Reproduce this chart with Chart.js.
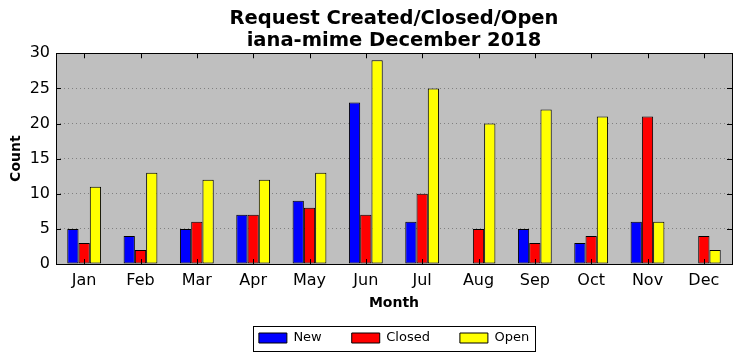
<!DOCTYPE html>
<html lang="en">
<head>
<meta charset="UTF-8">
<title>Request Created/Closed/Open - iana-mime December 2018</title>
<script src="https://cdn.jsdelivr.net/npm/chart.js@4"></script>
<style>
body{margin:0;background:#fff}
#wrap{width:742px;height:361px}
</style>
</head>
<body>
<div id="wrap"><canvas id="c" width="742" height="361"></canvas></div>
<script>
const MONTHS=["Jan","Feb","Mar","Apr","May","Jun","Jul","Aug","Sep","Oct","Nov","Dec"];
const NEW_REQ   =[5,4,5,7,9,23,6,0,5,3,6,0];
const CLOSED_REQ=[3,2,6,7,8,7,10,5,3,4,21,4];
const OPEN_REQ  =[11,13,12,12,13,29,25,20,22,21,6,2];

Chart.defaults.font.family="'DejaVu Sans', sans-serif";
Chart.defaults.color="#000";

// grey plot background, black frame, inward ticks, legend frame
const frame={
  id:"frame",
  beforeDraw(ch){
    const a=ch.chartArea,ctx=ch.ctx;
    ctx.save();ctx.fillStyle="#bfbfbf";
    ctx.fillRect(a.left,a.top,a.right-a.left,a.bottom-a.top);
    ctx.restore();
  },
  afterDraw(ch){
    const a=ch.chartArea,ctx=ch.ctx,x=ch.scales.x,y=ch.scales.y;
    ctx.save();
    ctx.strokeStyle="#000";ctx.lineWidth=1;
    ctx.strokeRect(Math.round(a.left)+.5,Math.round(a.top)+.5,Math.round(a.right-a.left),Math.round(a.bottom-a.top));
    ctx.beginPath();
    x.ticks.forEach((t,i)=>{
      const px=Math.round(x.getPixelForTick(i))+.5;
      ctx.moveTo(px,a.top);ctx.lineTo(px,a.top+5);
      ctx.moveTo(px,a.bottom);ctx.lineTo(px,a.bottom-5);
    });
    y.ticks.forEach((t,i)=>{
      const py=Math.round(y.getPixelForTick(i))+.5;
      ctx.moveTo(a.left,py);ctx.lineTo(a.left+5,py);
      ctx.moveTo(a.right,py);ctx.lineTo(a.right-5,py);
    });
    ctx.stroke();
    const hb=ch.legend.legendHitBoxes;
    if(hb&&hb.length){
      const l=hb[0].left-6,r=hb[hb.length-1].left+hb[hb.length-1].width+6;
      const cy=hb[0].top+hb[0].height/2;
      ctx.strokeRect(Math.round(l)+.5,Math.round(cy-12)+.5,Math.round(r-l),25);
    }
    ctx.restore();
  }
};

new Chart(document.getElementById("c"),{
  type:"bar",
  data:{labels:MONTHS,datasets:[
    {label:"New",data:NEW_REQ,backgroundColor:"#0000ff"},
    {label:"Closed",data:CLOSED_REQ,backgroundColor:"#ff0000"},
    {label:"Open",data:OPEN_REQ,backgroundColor:"#ffff00"}
  ]},
  options:{
    responsive:false,animation:false,
    layout:{padding:{left:0,right:10,top:0,bottom:6.5}},
    datasets:{bar:{borderColor:"#000",borderWidth:1,borderSkipped:false,categoryPercentage:.6,barPercentage:1}},
    plugins:{
      title:{display:true,fullSize:false,text:["Request Created/Closed/Open","iana-mime December 2018"],
        font:{size:19.5,weight:"bold",lineHeight:1.13},color:"#000",padding:{top:8,bottom:1.2}},
      legend:{position:"bottom",fullSize:false,
        labels:{boxWidth:28,boxHeight:10,padding:30,font:{size:13},color:"#000"}},
      tooltip:{enabled:false}
    },
    scales:{
      x:{
        grid:{display:false,drawTicks:false},
        border:{display:false},
        ticks:{font:{size:16},padding:7,color:"#000"},
        title:{display:true,text:"Month",font:{size:14,weight:"bold"},color:"#000",padding:{top:0,bottom:-10}},
        afterFit(s){s.height=37.5;}
      },
      y:{
        min:0,max:30,
        ticks:{stepSize:5,font:{size:16},padding:6,color:"#000"},
        grid:{color:"#808080",drawTicks:false,lineWidth:1},
        border:{display:false,dash:[1,3]},
        title:{display:true,text:"Count",font:{size:14,weight:"bold"},color:"#000",padding:{top:8,bottom:0}},
        afterFit(s){s.width=56;}
      }
    }
  },
  plugins:[frame]
});
</script>
</body>
</html>
